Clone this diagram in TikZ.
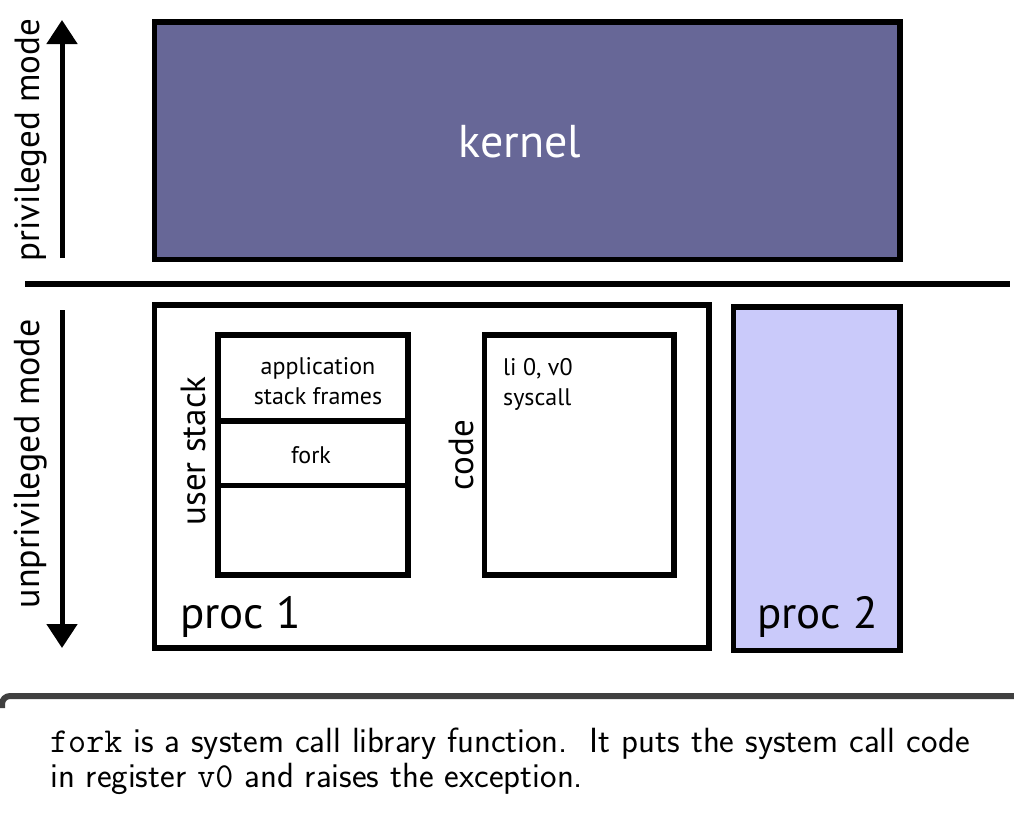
\documentclass[tikz,border=0pt]{standalone}
\usepackage{fontspec}
\setmainfont{PT Sans}
\usetikzlibrary{arrows.meta}
\definecolor{kernelc}{HTML}{676797}
\definecolor{proctwo}{HTML}{CACAFA}
\definecolor{capline}{HTML}{404040}
\tikzset{
  blk/.style={draw=black, line width=5.5pt, inner sep=0pt, outer sep=0pt},
  side/.style={rotate=90, font=\fontsize{35}{40}\selectfont, inner sep=0pt},
  big/.style={font=\fontsize{45}{50}\selectfont, inner sep=0pt},
  small/.style={font=\fontsize{24}{30}\selectfont, inner sep=0pt, align=center},
  captxt/.style={anchor=base west, inner sep=0pt, font=\sffamily\fontsize{35}{35}\selectfont},
  modearrow/.style={line width=5pt, -{Triangle[width=30pt,length=24pt]}},
}
\begin{document}
\begin{tikzpicture}[x=1pt,y=-1pt]
\useasboundingbox (0,0) rectangle (1014,825);
% kernel
\node[blk, fill=kernelc, minimum width=745.5pt, minimum height=237.5pt] (kernel) at (527.25,140.75) {};
\node[font=\fontsize{46}{50}\selectfont, text=white, inner sep=0pt] (kerneltxt) at (520,142) {kernel};
% separator
\coordinate (sepL) at (25,284);
\coordinate (sepR) at (1010,284);
\draw[line width=6pt] (sepL) -- (sepR);
% processes
\node[blk, fill=white, minimum width=554.5pt, minimum height=343pt] (proc1) at (431.75,476.5) {};
\node[blk, fill=proctwo, minimum width=166.3pt, minimum height=343.5pt] (proc2) at (816.85,478.75) {};
% user stack
\node[blk, minimum width=190pt, minimum height=86pt] (frames) at (313,378) {};
\node[blk, minimum width=190pt, minimum height=64.5pt] (forkbox) at (313,453.25) {};
\node[blk, minimum width=190pt, minimum height=89.5pt] (emptybox) at (313,530.25) {};
\node[small] (framestxt) at (318,381) {application\\stack frames};
\node[small] (forktxt) at (311,455) {fork};
\node[side] (stacklbl) at (193,451) {user stack};
% code
\node[blk, minimum width=189.5pt, minimum height=240pt] (code) at (579.25,455) {};
\node[side] (codelbl) at (461,455) {code};
\node[anchor=base west, inner sep=0pt, font=\fontsize{24}{30}\selectfont] (codetxtA) at (503,375) {li 0, v0};
\node[anchor=base west, inner sep=0pt, font=\fontsize{24}{30}\selectfont] (codetxtB) at (503,405) {syscall};
% proc labels
\node[big, anchor=base west] (p1txt) at (180,628) {proc 1};
\node[big, anchor=base west] (p2txt) at (757,628) {proc 2};
% mode arrows
\coordinate (upS) at (62,258);
\coordinate (upE) at (62,20);
\coordinate (dnS) at (62,310);
\coordinate (dnE) at (62,648);
\draw[modearrow] (upS) -- (upE);
\draw[modearrow] (dnS) -- (dnE);
\node[side] (privlbl) at (31,140) {privileged mode};
\node[side, font=\fontsize{36}{40}\selectfont] (unprivlbl) at (31,464) {unprivileged mode};
% caption
\coordinate (capA) at (2,708);
\coordinate (capB) at (2,696);
\coordinate (capC) at (1030,696);
\draw[capline, line width=6pt, rounded corners=8pt] (capA) -- (capB) -- (capC);
\node[captxt] (captionA) at (50,752)
  {\nonfrenchspacing\texttt{fork} is a system call library function.\ \ It puts the system call code};
\node[captxt] (captionB) at (50,787)
  {in register \texttt{v0} and raises the exception.};
\end{tikzpicture}
\end{document}
